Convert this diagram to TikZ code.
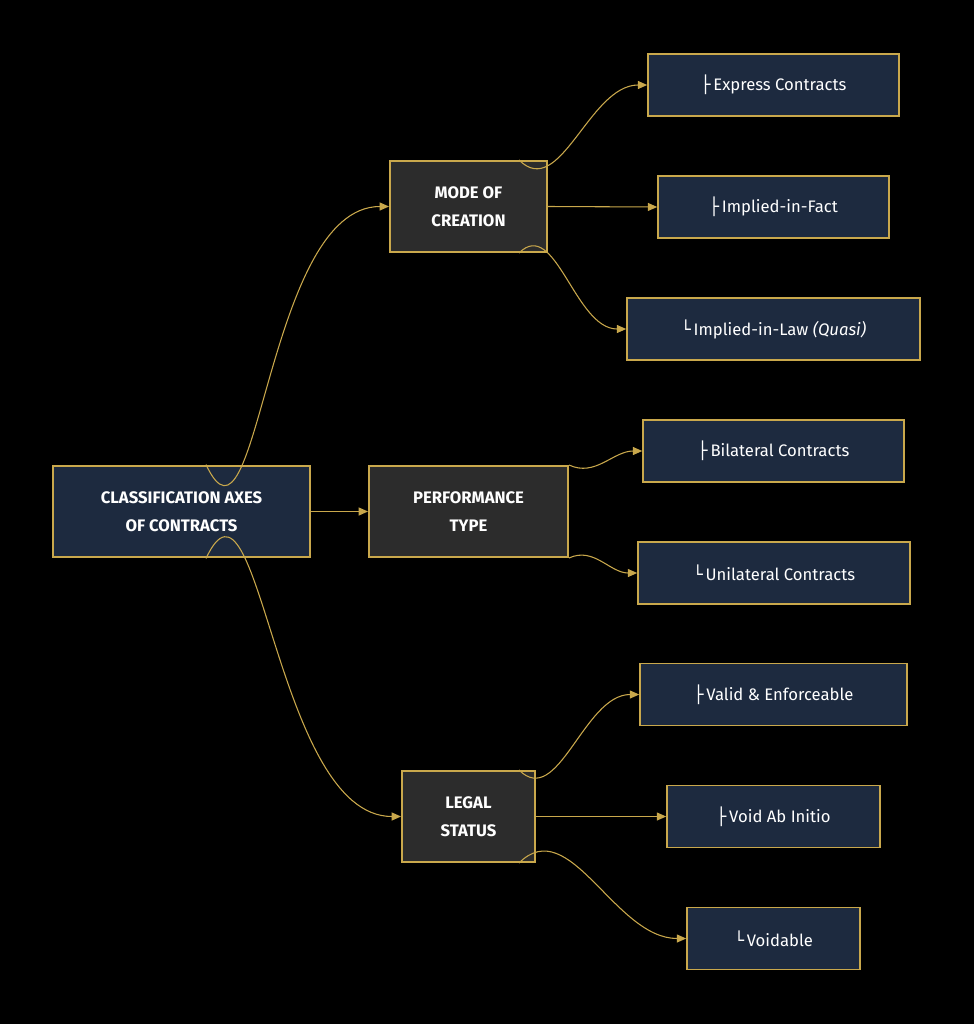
\documentclass[tikz,border=0pt]{standalone}
\usepackage{fontspec}
\setmainfont{Fira Sans}
\newfontfamily\djv{DejaVu Sans}
\usetikzlibrary{arrows.meta,calc}
\definecolor{gold}{HTML}{C9A84C}
\definecolor{navy}{HTML}{1D2A3F}
\definecolor{dgray}{HTML}{2C2C2C}
\newcommand{\mytee}{{\djv ├}\,}
\newcommand{\myell}{{\djv └}\,}
\begin{document}
\begin{tikzpicture}[x=0.75pt,y=-0.75pt,
  base/.style={draw=gold,text=white,align=center,inner sep=0pt},
  root/.style={base,fill=navy,line width=2.2pt,minimum width=257*0.75pt,minimum height=91*0.75pt,font=\fontsize{12.5}{21}\selectfont\bfseries},
  mid/.style={base,fill=dgray,line width=1.5pt,minimum height=91*0.75pt,font=\fontsize{12.5}{21}\selectfont\bfseries},
  leaf/.style={base,fill=navy,line width=1.2pt,minimum height=62*0.75pt,font=\fontsize{12.5}{15}\selectfont},
  con/.style={draw=gold,line width=0.8pt,-{Triangle[length=7pt,width=6pt]}}]
\fill[black] (0,0) rectangle (974,1024);
\node[root] (r) at (181.5,511.5) {CLASSIFICATION AXES\\OF CONTRACTS};
\node[mid,minimum width=157*0.75pt] (m) at (468.5,206.5) {MODE OF\\CREATION};
\node[mid,minimum width=199*0.75pt] (p) at (468.5,511.5) {PERFORMANCE\\TYPE};
\node[mid,minimum width=133*0.75pt] (l) at (468.5,816.5) {LEGAL\\STATUS};
\node[leaf,minimum width=251*0.75pt] (e1) at (773.5,85) {\mytee Express Contracts};
\node[leaf,minimum width=231*0.75pt] (e2) at (773.5,207) {\mytee Implied-in-Fact};
\node[leaf,minimum width=293*0.75pt] (e3) at (773.5,329) {\myell Implied-in-Law \textit{(Quasi)}};
\node[leaf,minimum width=261*0.75pt] (b1) at (773.5,451) {\mytee Bilateral Contracts};
\node[leaf,minimum width=272*0.75pt] (b2) at (774,573) {\myell Unilateral Contracts};
\node[leaf,minimum width=267*0.75pt] (v1) at (773.5,694.5) {\mytee Valid \& Enforceable};
\node[leaf,minimum width=213*0.75pt] (v2) at (773.5,816.5) {\mytee Void Ab Initio};
\node[leaf,minimum width=173*0.75pt] (v3) at (773.5,938.5) {\myell Voidable};
\draw[con] ($(r.north)+(24.5,0)$) to[out=-65,in=180] (m.west);
\draw[con] (r.east) -- (p.west);
\draw[con] ($(r.south)+(24.5,0)$) to[out=65,in=180] (l.west);
\draw[con] ($(m.north)+(50.5,0)$) to[out=-45,in=180] (e1.west);
\draw[con] (m.east) -- (e2.west);
\draw[con] ($(m.south)+(50.5,0)$) to[out=45,in=180] (e3.west);
\draw[con] (p.north east) to[out=-25,in=180] (b1.west);
\draw[con] (p.south east) to[out=25,in=180] (b2.west);
\draw[con] ($(l.north)+(50.5,0)$) to[out=-45,in=180] (v1.west);
\draw[con] (l.east) -- (v2.west);
\draw[con] ($(l.south)+(50.5,0)$) to[out=45,in=180] (v3.west);
\end{tikzpicture}
\end{document}
